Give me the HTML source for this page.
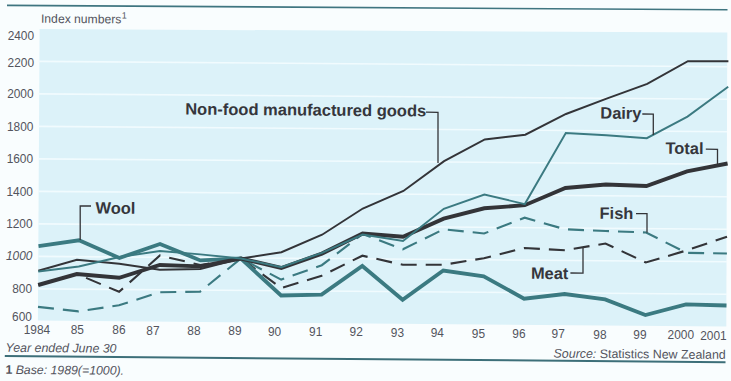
<!DOCTYPE html>
<html><head><meta charset="utf-8"><style>
html,body{margin:0;padding:0;background:#f9fdfe;width:731px;height:381px;overflow:hidden}
svg{display:block;font-family:"Liberation Sans",sans-serif}
</style></head><body>
<svg width="731" height="381" viewBox="0 0 731 381">
<rect x="0" y="0" width="731" height="381" fill="#f9fdfe"/>
<line x1="7" y1="5.4" x2="727.5" y2="9.8" stroke="#3f7580" stroke-width="1.6"/>
<text x="41" y="22.8" transform="rotate(0.44 41 22.8)" font-size="12.15" fill="#53545d">Index numbers<tspan font-size="9" dy="-4.8" dx="0.4">1</tspan></text>
<polygon points="39.6,29 727.3,32.6 726.3,326.5 37.9,320.6" fill="#dcf2f9"/>
<g stroke="#f1fbfe" stroke-width="1.6"><line x1="38.5" y1="288.90" x2="727" y2="294.20"/><line x1="38.5" y1="256.40" x2="727" y2="261.70"/><line x1="38.5" y1="223.90" x2="727" y2="229.20"/><line x1="38.5" y1="191.40" x2="727" y2="196.70"/><line x1="38.5" y1="158.90" x2="727" y2="164.20"/><line x1="38.5" y1="126.40" x2="727" y2="131.70"/><line x1="38.5" y1="93.90" x2="727" y2="99.20"/><line x1="38.5" y1="61.40" x2="727" y2="66.70"/></g>
<g font-size="11.9" fill="#53545d"><text x="34.1" y="40.0" text-anchor="end">2400</text><text x="34.0" y="66.5" text-anchor="end">2200</text><text x="33.6" y="98.3" text-anchor="end">2000</text><text x="33.4" y="131.3" text-anchor="end">1800</text><text x="33.1" y="162.8" text-anchor="end">1600</text><text x="32.9" y="195.9" text-anchor="end">1400</text><text x="32.6" y="228.0" text-anchor="end">1200</text><text x="32.4" y="260.1" text-anchor="end" font-style="italic">1000</text><text x="32.1" y="292.6" text-anchor="end">800</text><text x="31.9" y="320.9" text-anchor="end">600</text><text x="50.2" y="333.7" text-anchor="end">1984</text><text x="83.9" y="333.9" text-anchor="end">85</text><text x="125.5" y="334.2" text-anchor="end">86</text><text x="159.6" y="334.5" text-anchor="end">87</text><text x="200.5" y="334.8" text-anchor="end">88</text><text x="241.6" y="335.2" text-anchor="end">89</text><text x="281.2" y="335.5" text-anchor="end">90</text><text x="322.3" y="335.9" text-anchor="end">91</text><text x="362.8" y="336.2" text-anchor="end">92</text><text x="404.1" y="336.8" text-anchor="end">93</text><text x="443.9" y="337.1" text-anchor="end">94</text><text x="485" y="337.5" text-anchor="end">95</text><text x="525.5" y="337.9" text-anchor="end">96</text><text x="564.8" y="338.2" text-anchor="end">97</text><text x="606.6" y="338.6" text-anchor="end">98</text><text x="646.5" y="338.9" text-anchor="end">99</text><text x="694" y="339.3" text-anchor="end">2000</text><text x="726.7" y="339.5" text-anchor="end">2001</text></g>
<g fill="none" stroke-linejoin="miter" stroke-linecap="butt">
<polyline points="38.0,306.9 78.5,311.4 119.0,305.3 159.6,292.3 200.1,291.6 240.9,258.5 281.2,279.6 321.8,265.2 362.6,234.0 402.9,249.3 443.6,229.3 484.1,233.5 524.7,217.7 565.1,229.3 605.6,231.0 646.1,232.5 686.4,252.8 726.9,253.5" stroke="#3b7a81" stroke-width="2.1" stroke-dasharray="16 9"/>
<polyline points="38.2,285.0 76.8,274.0 119.1,291.8 159.9,255.5 200.3,265.0 240.9,258.5 281.1,288.0 321.7,275.7 362.4,255.7 402.8,264.8 443.3,264.8 483.9,258.2 524.5,248.0 564.9,250.2 605.5,243.5 645.8,262.5 686.4,250.5 727.0,236.7" stroke="#333438" stroke-width="2.1" stroke-dasharray="16 9" stroke-dashoffset="-0.2"/>
<polyline points="38.5,246.2 79.0,240.3 119.4,258.0 160.0,244.0 200.4,260.4 240.9,258.5 281.1,295.5 321.6,294.6 362.3,266.0 402.6,299.8 443.3,270.5 483.7,276.3 524.1,298.7 564.6,294.0 605.1,299.4 645.4,315.0 686.0,304.4 726.5,305.5" stroke="#3b7a81" stroke-width="3.8"/>
<polyline points="38.3,270.8 76.9,259.8 119.3,263.8 159.8,269.7 200.3,269.0 240.9,258.5 281.4,252.2 322.1,234.7 362.8,208.5 403.4,191.0 444.1,161.2 484.8,139.5 525.3,134.7 566.0,114.0 606.6,98.6 647.2,83.8 687.9,61.2 728.4,61.2" stroke="#333438" stroke-width="1.95"/>
<polyline points="38.2,285.0 76.8,274.0 119.2,277.8 159.8,265.0 200.3,266.4 240.9,258.5 281.3,268.0 321.9,253.6 362.6,233.6 403.0,236.7 443.7,218.7 484.3,208.3 524.8,205.2 565.4,188.0 605.9,184.5 646.4,186.0 687.0,171.4 727.6,163.5" stroke="#333438" stroke-width="3.9"/>
<polyline points="38.3,271.5 78.8,266.5 119.4,257.0 159.9,251.0 200.4,254.4 240.9,258.5 281.3,267.2 321.9,252.8 362.6,234.6 403.0,241.0 443.8,208.8 484.4,194.5 524.8,204.1 565.8,133.1 606.3,135.2 646.8,138.2 687.5,116.6 728.2,86.8" stroke="#3b7a81" stroke-width="1.9"/>
</g>
<g fill="none" stroke="#333438" stroke-width="1.3">
<polyline points="91,206 80.2,206 80.2,240"/>
<polyline points="426,112.1 438,112.3 438,163"/>
<polyline points="642.3,114 653.3,114.1 653.3,135"/>
<polyline points="705.8,149.2 717.5,149.3 717.5,164"/>
<polyline points="636,213.6 647,213.7 647,232.5"/>
<polyline points="570.4,273 583,273.1 583,248"/>
</g>
<g font-weight="bold" font-size="16.4" fill="#35363c">
<text x="95.6" y="213.6" transform="rotate(0.44 95.6 213.6)">Wool</text>
<text x="185.2" y="114.6" transform="rotate(0.44 185.2 114.6)" textLength="241" lengthAdjust="spacingAndGlyphs">Non-food manufactured goods</text>
<text x="600.3" y="118.6" transform="rotate(0.44 600.3 118.6)">Dairy</text>
<text x="665.5" y="153.8" transform="rotate(0.44 665.5 153.8)">Total</text>
<text x="599.6" y="218.8" transform="rotate(0.44 599.6 218.8)">Fish</text>
<text x="530.9" y="278.8" transform="rotate(0.44 530.9 278.8)">Meat</text>
</g>
<text x="5.6" y="351.8" transform="rotate(0.44 5.6 351.8)" font-size="12.4" font-style="italic" fill="#53545d">Year ended June 30</text>
<text x="553.6" y="357.6" transform="rotate(0.44 553.6 357.6)" font-size="12.4" fill="#53545d"><tspan font-style="italic">Source:</tspan> Statistics New Zealand</text>
<line x1="4.8" y1="356" x2="725.5" y2="362.2" stroke="#3d6f79" stroke-width="2"/>
<text x="5.4" y="373.8" transform="rotate(0.44 5.4 373.8)" font-size="12.3" fill="#53545d"><tspan font-weight="bold">1</tspan> <tspan font-style="italic">Base: 1989(=1000).</tspan></text>
</svg>
</body></html>
